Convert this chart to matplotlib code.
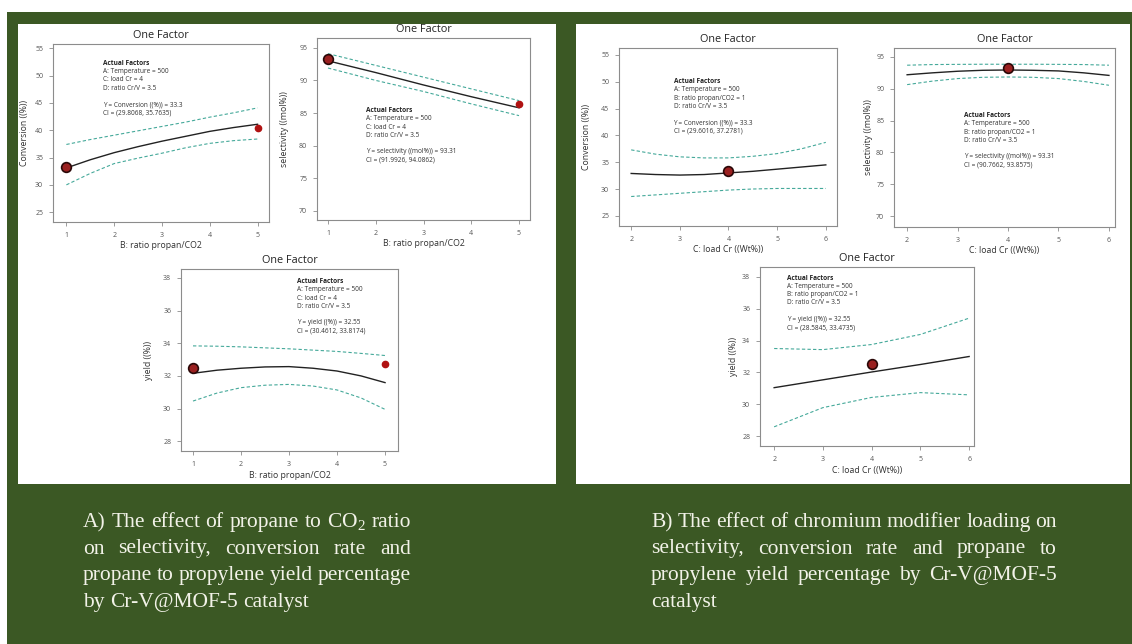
import matplotlib
matplotlib.use("Agg")
import matplotlib.pyplot as plt
from matplotlib.patches import Rectangle

W, H = 1132, 644

# --- data ------------------------------------------------------------------
ratio_x = [1, 1.5, 2, 2.5, 3, 3.5, 4, 4.5, 5]
ratio_x5 = [1, 2, 3, 4, 5]
load_x = [2, 2.5, 3, 3.5, 4, 4.5, 5, 5.5, 6]
load_x5 = [2, 3, 4, 5, 6]

conv_ratio_fit = [33.1, 34.6, 35.9, 37.0, 38.0, 38.9, 39.8, 40.5, 41.1]
conv_ratio_hi = [37.4, 38.3, 39.1, 39.9, 40.7, 41.5, 42.4, 43.2, 44.1]
conv_ratio_lo = [30.0, 32.1, 33.9, 34.9, 35.8, 36.8, 37.6, 38.1, 38.4]
conv_ratio_pts = [(1, 33.2), (5, 40.5)]

sel_ratio_fit = [93.0, 91.2, 89.3, 87.5, 85.8]
sel_ratio_hi = [94.1, 92.3, 90.5, 88.7, 86.9]
sel_ratio_lo = [91.9, 90.0, 88.3, 86.4, 84.6]
sel_ratio_pts = [(1, 93.3), (5, 86.4)]

yld_ratio_fit = [32.16, 32.35, 32.47, 32.55, 32.57, 32.47, 32.30, 32.0, 31.59]
yld_ratio_hi = [33.84, 33.82, 33.78, 33.72, 33.66, 33.58, 33.50, 33.38, 33.25]
yld_ratio_lo = [30.46, 30.95, 31.28, 31.43, 31.48, 31.38, 31.14, 30.65, 29.95]
yld_ratio_pts = [(1, 32.51), (5, 32.71)]

conv_load_fit = [32.9, 32.7, 32.6, 32.7, 33.0, 33.3, 33.7, 34.1, 34.5]
conv_load_hi = [37.3, 36.5, 36.0, 35.8, 35.8, 36.1, 36.6, 37.5, 38.7]
conv_load_lo = [28.6, 28.9, 29.2, 29.5, 29.8, 30.0, 30.1, 30.1, 30.1]
conv_load_pts = [(4, 33.35)]

sel_load_fit = [92.2, 92.5, 92.75, 92.9, 92.95, 92.9, 92.8, 92.5, 92.1]
sel_load_hi = [93.7, 93.8, 93.83, 93.85, 93.85, 93.85, 93.83, 93.8, 93.7]
sel_load_lo = [90.65, 91.2, 91.6, 91.8, 91.85, 91.8, 91.6, 91.15, 90.55]
sel_load_pts = [(4, 93.27)]

yld_load_fit = [31.05, 31.54, 32.03, 32.5, 33.0]
yld_load_hi = [33.5, 33.43, 33.75, 34.38, 35.4]
yld_load_lo = [28.6, 29.8, 30.44, 30.74, 30.6]
yld_load_pts = [(4, 32.55)]

notes_ratio_conv = ["A: Temperature = 500", "C: load Cr = 4", "D: ratio Cr/V = 3.5", "",
                    "Y = Conversion ((%)) = 33.3", "CI = (29.8068, 35.7635)"]
notes_ratio_sel = ["A: Temperature = 500", "C: load Cr = 4", "D: ratio Cr/V = 3.5", "",
                   "Y = selectivity ((mol%)) = 93.31", "CI = (91.9926, 94.0862)"]
notes_ratio_yld = ["A: Temperature = 500", "C: load Cr = 4", "D: ratio Cr/V = 3.5", "",
                   "Y = yield ((%)) = 32.55", "CI = (30.4612, 33.8174)"]
notes_load_conv = ["A: Temperature = 500", "B: ratio propan/CO2 = 1", "D: ratio Cr/V = 3.5", "",
                   "Y = Conversion ((%)) = 33.3", "CI = (29.6016, 37.2781)"]
notes_load_sel = ["A: Temperature = 500", "B: ratio propan/CO2 = 1", "D: ratio Cr/V = 3.5", "",
                  "Y = selectivity ((mol%)) = 93.31", "CI = (90.7662, 93.8575)"]
notes_load_yld = ["A: Temperature = 500", "B: ratio propan/CO2 = 1", "D: ratio Cr/V = 3.5", "",
                  "Y = yield ((%)) = 32.55", "CI = (28.5845, 33.4735)"]

caption_a = ["A) The effect of propane to CO$_2$ ratio",
             "on selectivity, conversion rate and",
             "propane to propylene yield percentage",
             "by Cr-V@MOF-5 catalyst"]
caption_b = ["B) The effect of chromium modifier loading on",
             "selectivity, conversion rate and propane to",
             "propylene yield percentage by Cr-V@MOF-5",
             "catalyst"]

GREEN = "#3b5824"
CI_COL = "#45a99a"
FRAME = "#8c8c8c"

plt.rcParams["font.family"] = ["Open Sans", "DejaVu Sans"]
plt.rcParams["mathtext.fontset"] = "custom"
plt.rcParams["mathtext.rm"] = "Liberation Serif"
plt.rcParams["mathtext.default"] = "regular"

fig = plt.figure(figsize=(W / 100, H / 100), dpi=100)
fig.patch.set_facecolor("white")

# background green frame and the two white panels
fig.patches.append(Rectangle((7 / W, 0), 1, 1 - 12 / H, transform=fig.transFigure,
                             facecolor=GREEN, edgecolor="none", zorder=-3))
for x0, x1 in [(18, 556), (576, 1130)]:
    fig.patches.append(Rectangle((x0 / W, 1 - 484 / H), (x1 - x0) / W, (484 - 24) / H,
                                 transform=fig.transFigure, facecolor="white",
                                 edgecolor="none", zorder=-2))


def px_axes(x0, y0, x1, y1):
    return fig.add_axes([x0 / W, 1 - y1 / H, (x1 - x0) / W, (y1 - y0) / H])


def one_factor(box, x, fit, lo, hi, pts, xlim, ylim, xticks, yticks,
               xlabel, ylabel, notes, note_xy, ylab_x):
    ax = px_axes(*box)
    ax.plot(x, hi, color=CI_COL, lw=0.8, ls=(0, (3, 2)))
    ax.plot(x, lo, color=CI_COL, lw=0.8, ls=(0, (3, 2)))
    ax.plot(x, fit, color="#222222", lw=1.0)
    bx, by = pts[0]
    ax.plot(bx, by, "o", ms=7, mfc="#9a2020", mec="#2a0808", mew=1.2, zorder=5)
    for px, py in pts[1:]:
        ax.plot(px, py, "o", ms=4.5, color="#b01212", zorder=5)
    ax.set_xlim(*xlim)
    ax.set_ylim(*ylim)
    ax.set_xticks(xticks)
    ax.set_yticks(yticks)
    ax.tick_params(direction="out", length=3, width=0.6, color=FRAME,
                   labelsize=5, labelcolor="#555555", pad=4)
    for s in ax.spines.values():
        s.set_color(FRAME)
        s.set_linewidth(0.8)
    ax.set_title("One Factor", fontsize=7.8, color="#222222", pad=4)
    ax.set_xlabel(xlabel, fontsize=6.3, color="#333333", labelpad=2)
    ax.set_ylabel(ylabel, fontsize=6.3, color="#333333")
    ax.yaxis.set_label_coords(ylab_x, 0.5)
    ax.text(note_xy[0], note_xy[1], "Actual Factors", transform=ax.transAxes,
            fontsize=4.7, fontweight="bold", va="top", color="#222222")
    ax.text(note_xy[0], note_xy[1] - 0.045, "\n".join(notes), transform=ax.transAxes,
            fontsize=4.7, va="top", color="#333333", linespacing=1.25)
    return ax


one_factor((53, 44, 269, 222), ratio_x, conv_ratio_fit, conv_ratio_lo, conv_ratio_hi,
           conv_ratio_pts, (0.72, 5.24), (23.2, 55.8), ratio_x5, [25, 30, 35, 40, 45, 50, 55],
           "B: ratio propan/CO2", "Conversion ((%))", notes_ratio_conv, (0.23, 0.91), -0.11)
one_factor((317, 38, 530, 220), ratio_x5, sel_ratio_fit, sel_ratio_lo, sel_ratio_hi,
           sel_ratio_pts, (0.77, 5.23), (68.6, 96.5), ratio_x5, [70, 75, 80, 85, 90, 95],
           "B: ratio propan/CO2", "selectivity ((mol%))", notes_ratio_sel, (0.23, 0.62), -0.13)
one_factor((181, 269, 398, 451), ratio_x, yld_ratio_fit, yld_ratio_lo, yld_ratio_hi,
           yld_ratio_pts, (0.75, 5.27), (27.4, 38.55), ratio_x5, [28, 30, 32, 34, 36, 38],
           "B: ratio propan/CO2", "yield ((%))", notes_ratio_yld, (0.535, 0.95), -0.13)
one_factor((619, 48, 837, 226), load_x, conv_load_fit, conv_load_lo, conv_load_hi,
           conv_load_pts, (1.75, 6.23), (23.1, 56.3), load_x5, [25, 30, 35, 40, 45, 50, 55],
           "C: load Cr ((Wt%))", "Conversion ((%))", notes_load_conv, (0.25, 0.83), -0.13)
one_factor((894, 48, 1115, 227), load_x, sel_load_fit, sel_load_lo, sel_load_hi,
           sel_load_pts, (1.74, 6.12), (68.3, 96.4), load_x5, [70, 75, 80, 85, 90, 95],
           "C: load Cr ((Wt%))", "selectivity ((mol%))", notes_load_sel, (0.317, 0.64), -0.095)
one_factor((760, 267, 974, 446), load_x5, yld_load_fit, yld_load_lo, yld_load_hi,
           yld_load_pts, (1.71, 6.1), (27.4, 38.6), load_x5, [28, 30, 32, 34, 36, 38],
           "C: load Cr ((Wt%))", "yield ((%))", notes_load_yld, (0.126, 0.957), -0.103)


# justified captions, word by word
renderer = fig.canvas.get_renderer()
probe = fig.text(0, 0, caption_b[0], fontsize=10, family="Liberation Serif")
cap_size = 10 * 406 / probe.get_window_extent(renderer).width
probe.remove()
space = fig.text(0, 0, "a a", fontsize=cap_size, family="Liberation Serif")
aa = fig.text(0, 0, "aa", fontsize=cap_size, family="Liberation Serif")
space_w = space.get_window_extent(renderer).width - aa.get_window_extent(renderer).width
space.remove()
aa.remove()


def justified(lines, x0, x1, base_px, step, **kw):
    for i, line in enumerate(lines):
        words = line.split(" ")
        y = 1 - (base_px + i * step) / H
        texts = [fig.text(0, y, w, va="baseline", **kw) for w in words]
        widths = [t.get_window_extent(renderer).width for t in texts]
        if i == len(lines) - 1 or len(words) == 1:
            gap = space_w
        else:
            gap = (x1 - x0 - sum(widths)) / (len(words) - 1)
        x = x0
        for t, wd in zip(texts, widths):
            t.set_x(x / W)
            x += wd + gap


cap_kw = dict(fontsize=cap_size, color="#f2f2e8", family="Liberation Serif")
justified(caption_a, 83, 411, 527, 26.5, **cap_kw)
justified(caption_b, 651, 1057, 527, 26.5, **cap_kw)

fig.savefig("out.png", dpi=100, facecolor=fig.get_facecolor())
